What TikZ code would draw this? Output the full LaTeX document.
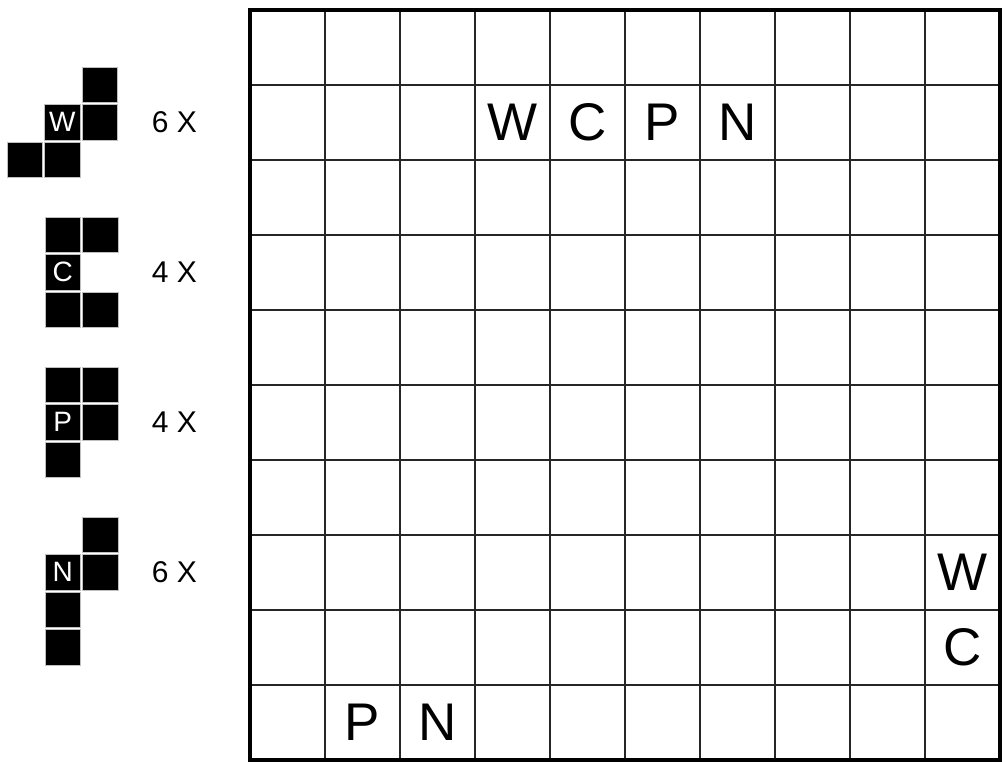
\documentclass[tikz,border=0pt]{standalone}
\usepackage{fontspec}
\setmainfont{Liberation Sans}
\usetikzlibrary{positioning}

\begin{document}
\begin{tikzpicture}[x=1pt, y=-1pt,
  sq/.style={fill=black, draw=gray!50, line width=0.5pt, minimum size=35.5pt,
             inner sep=0pt, text=white, font=\fontsize{28}{28}\selectfont},
  cnt/.style={font=\fontsize{30}{30}\selectfont},
  ltr/.style={font=\fontsize{53}{53}\selectfont},
  thin/.style={line width=1.5pt, color=black!85}
]
  \useasboundingbox (0,0) rectangle (1006,762);

  % ---- Teile (links) ----
  % W
  \foreach \c/\r/\t [count=\k] in {2/0/, 1/1/W, 2/1/, 0/2/, 1/2/}
    \node[sq] (w\k) at ({24.75+37.5*\c}, {84.75+37.5*\r}) {\t};
  \node[cnt] (nw) at (174.5,122) {6 X};
  % C
  \foreach \c/\r/\t [count=\k] in {0/0/, 1/0/, 0/1/C, 0/2/, 1/2/}
    \node[sq] (c\k) at ({62.75+37.5*\c}, {234.75+37.5*\r}) {\t};
  \node[cnt] (nc) at (174.5,272) {4 X};
  % P
  \foreach \c/\r/\t [count=\k] in {0/0/, 1/0/, 0/1/P, 1/1/, 0/2/}
    \node[sq] (p\k) at ({62.75+37.5*\c}, {384.75+37.5*\r}) {\t};
  \node[cnt] (np) at (174.5,422) {4 X};
  % N
  \foreach \c/\r/\t [count=\k] in {1/0/, 0/1/N, 1/1/, 0/2/, 0/3/}
    \node[sq] (n\k) at ({62.75+37.5*\c}, {534.75+37.5*\r}) {\t};
  \node[cnt] (nn) at (174.5,572) {6 X};

  % ---- Raster (rechts) ----
  \foreach \i in {1,...,9} {
    \draw[thin] ({250+75*\i},10) -- ({250+75*\i},760);
    \draw[thin] (250,{10+75*\i}) -- (1000,{10+75*\i});
  }
  \draw[line width=4.5pt] (250,10) rectangle (1000,760);

  % Buchstaben im Raster
  \foreach \c/\r/\t in {3/1/W, 4/1/C, 5/1/P, 6/1/N, 9/7/W, 9/8/C, 1/9/P, 2/9/N}
    \node[ltr] (g\c\r) at ({250+75*\c+37.5}, {10+75*\r+37.5}) {\t};
\end{tikzpicture}
\end{document}
